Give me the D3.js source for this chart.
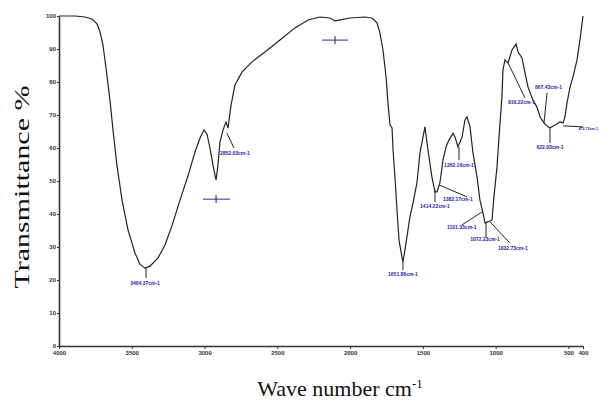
<!DOCTYPE html>
<html>
<head>
<meta charset="utf-8">
<script src="https://cdn.jsdelivr.net/npm/d3@7/dist/d3.min.js"></script>
<style>
  body { margin: 0; background: #fff; }
  svg { display: block; }
  .axis path, .axis line { stroke: #333; }
  .axis text { font-family: "Liberation Sans", Arial, sans-serif; font-size: 6px; font-weight: bold; fill: #333; }
  .peak { font-family: "Liberation Sans", Arial, sans-serif; font-size: 5px; font-weight: bold; fill: #2222aa; }
</style>
</head>
<body>
<svg width="602" height="402"></svg>
<script>
// FTIR spectrum, values
var wavenumber = [4000, 3890, 3821, 3773, 3739, 3718, 3698, 3677, 3650, 3629, 3602, 3567, 3526, 3478, 3444, 3409,
  3375, 3320, 3272, 3224, 3169, 3114, 3066, 3031, 3004, 2983, 2963, 2942, 2921, 2908, 2894, 2873, 2853, 2839, 2818,
  2791, 2743, 2674, 2585, 2482, 2379, 2289, 2207, 2138, 2104, 2069, 2001, 1898, 1850, 1815, 1795, 1774, 1753, 1740,
  1726, 1712, 1705, 1692, 1678, 1664, 1643, 1637, 1623, 1589, 1568, 1541, 1520, 1486, 1465, 1438, 1417, 1403, 1383,
  1362, 1341, 1321, 1293, 1279, 1259, 1231, 1211, 1197, 1176, 1156, 1128, 1108, 1087, 1073, 1053, 1025, 1012, 991,
  977, 957, 950, 936, 915, 888, 860, 846, 819, 798, 778, 744, 716, 695, 668, 640, 627, 592, 558, 537, 524, 510, 489,
  469, 441, 421, 400];
var transmittance = [100, 100, 99.7, 99.1, 97.6, 95.2, 91.2, 84.2, 74.5, 65.5, 54.8, 44.2, 35.2, 28.2, 24.8, 23.6,
  24.2, 26.7, 30.6, 36.4, 44.2, 51.5, 58.8, 63.0, 65.5, 64.2, 60.0, 54.8, 50.3, 54.8, 61.8, 65.5, 67.9, 66.1, 73.0,
  79.1, 83.0, 86.1, 89.1, 92.7, 96.4, 98.8, 99.7, 99.4, 98.5, 98.8, 99.4, 99.7, 99.4, 97.9, 94.8, 89.7, 81.5, 73.6,
  67.0, 66.1, 59.4, 51.2, 41.2, 32.1, 26.7, 25.5, 29.1, 39.1, 43.3, 49.4, 58.5, 66.4, 59.4, 51.2, 46.7, 46.7, 49.4,
  56.4, 60.3, 62.4, 64.5, 63.3, 60.3, 63.3, 68.5, 69.4, 66.4, 58.5, 51.2, 44.2, 40.3, 37.3, 37.6, 38.2, 45.2, 54.2,
  63.3, 75.5, 83.6, 86.7, 85.8, 89.7, 91.5, 89.1, 87.3, 82.7, 78.5, 74.5, 72.4, 69.4, 67.6, 66.4, 66.1, 67.0, 67.9,
  67.6, 69.4, 73.6, 78.5, 81.5, 86.7, 92.7, 100];

var xTicks = [4000, 3500, 3000, 2500, 2000, 1500, 1000, 500, 400];
var yTicks = [0, 10, 20, 30, 40, 50, 60, 70, 80, 90, 100];

// peak labels: text, anchor point (wavenumber, T%)
var peakText = ["3404.37cm-1", "2852.03cm-1", "1651.88cm-1", "1414.22cm-1", "1382.17cm-1", "1262.16cm-1",
  "1101.33cm-1", "1072.23cm-1", "1032.73cm-1", "916.22cm-1", "867.43cm-1", "622.03cm-1", "472.73cm-1"];
var peakWn = [3409, 2894, 1637, 1417, 1362, 1252, 1334, 1073, 984, 730, 730, 627, 297];
var peakT = [18.5, 57.9, 21.2, 41.8, 43.9, 54.2, 35.5, 31.8, 29.1, 73.3, 77.9, 59.7, 65.4];
var peakAnchor = ["middle", "start", "middle", "middle", "start", "middle", "start", "middle", "start", "end", "start", "middle", "end"];

// leader lines from the curve to the labels [wn1, T1, wn2, T2]
var leaders = [
  [3402, 23.9, 3402, 20.6], [2846, 64.5, 2798, 60.0],
  [3011, 44.5, 2825, 44.5], [2921, 45.8, 2921, 43.3],
  [2193, 92.7, 2015, 92.7], [2104, 93.9, 2104, 91.5],
  [1637, 25.5, 1637, 23.0], [1417, 47.3, 1417, 43.6], [1389, 48.8, 1197, 45.2],
  [1252, 60.3, 1252, 56.4], [1094, 40.6, 1231, 36.7], [1066, 37.6, 1066, 33.0],
  [1039, 37.6, 902, 31.2], [915, 85.8, 799, 75.2], [647, 76.7, 668, 67.6],
  [627, 66.1, 627, 61.5], [537, 66.7, 400, 66.4]
];

var svg = d3.select("svg");
var top_margin = 16;
var right_margin = 19;
var bottom_margin = 56;
var left_margin = 59;

var width = svg.attr("width") - left_margin - right_margin;
var height = svg.attr("height") - top_margin - bottom_margin;

var x = d3.scaleLinear().domain([4000, 400]).range([0, width]);
var y = d3.scaleLinear().domain([0, 100]).range([height, 0]);

var g = svg.append("g").attr("transform", "translate(" + left_margin + "," + top_margin + ")");

g.append("g")
  .attr("class", "axis axis--x")
  .attr("transform", "translate(0," + height + ")")
  .call(d3.axisBottom(x).tickValues(xTicks).tickFormat(d3.format("d")).tickSize(3).tickSizeOuter(0).tickPadding(2))
  .select(".domain").attr("stroke-width", 1.6);

g.append("g")
  .attr("class", "axis axis--y")
  .call(d3.axisLeft(y).tickValues(yTicks).tickSize(2).tickSizeOuter(0).tickPadding(1))
  .select(".domain").attr("stroke-width", 1.6);

// the spectrum
var pts = wavenumber.map(function(w, i) { return [w, transmittance[i]]; });
g.append("path")
  .datum(pts)
  .attr("fill", "none")
  .attr("stroke", "#222")
  .attr("stroke-width", 1.2)
  .attr("d", d3.line()
    .x(function(d) { return x(d[0]); })
    .y(function(d) { return y(d[1]); }));

// leaders
g.selectAll(".leader")
  .data(leaders)
  .enter().append("line")
    .attr("class", "leader")
    .attr("x1", function(d) { return x(d[0]); })
    .attr("y1", function(d) { return y(d[1]); })
    .attr("x2", function(d) { return x(d[2]); })
    .attr("y2", function(d) { return y(d[3]); })
    .attr("stroke", function(d, i) { return (i == 2 || i == 4) ? "#2a2a8a" : "#222"; })
    .attr("stroke-width", 1);

// peak labels
g.selectAll(".peak")
  .data(peakText)
  .enter().append("text")
    .attr("class", "peak")
    .attr("x", function(d, i) { return x(peakWn[i]); })
    .attr("y", function(d, i) { return y(peakT[i]); })
    .attr("text-anchor", function(d, i) { return peakAnchor[i]; })
    .text(function(d) { return d; });

// last label sits against the right edge, make it smaller so it stays inside
g.selectAll(".peak").filter(function(d, i) { return i == peakText.length - 1; })
  .style("font-size", "3.6px");

// axis titles
svg.append("text")
  .attr("transform", "translate(29,187) rotate(-90) scale(1.5,1)")
  .attr("text-anchor", "middle")
  .style("font-family", "'Liberation Serif', 'Times New Roman', serif")
  .style("font-size", "20px")
  .attr("fill", "#111")
  .text("Transmittance %");

var xt = svg.append("text")
  .attr("x", 340)
  .attr("y", 396)
  .attr("text-anchor", "middle")
  .style("font-family", "'Liberation Serif', 'Times New Roman', serif")
  .style("font-size", "22px")
  .attr("fill", "#111");
xt.append("tspan").text("Wave number cm");
xt.append("tspan").attr("dy", -8).style("font-size", "13px").text("-1");
</script>
</body>
</html>
